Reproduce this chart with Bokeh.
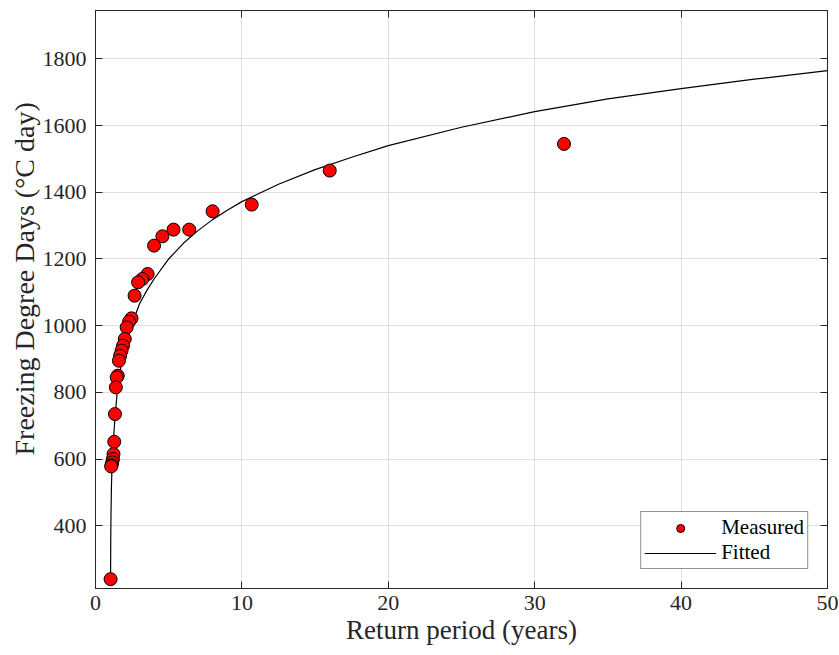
from bokeh.plotting import figure
from bokeh.models import Range1d, LinearAxis, FixedTicker, Legend, LegendItem, CustomJSTickFormatter, Title
from bokeh.embed import file_html
from bokeh.resources import INLINE

# Measured return periods (years) and freezing degree days
return_period = [32, 16, 10.67, 8, 6.4, 5.33, 4.57, 4.0, 3.56, 3.2, 2.91, 2.67,
                 2.46, 2.29, 2.13, 2.0, 1.88, 1.78, 1.68, 1.6, 1.52, 1.45, 1.39,
                 1.33, 1.28, 1.23, 1.19, 1.14, 1.10, 1.07, 1.03]
fdd_measured = [1545, 1465, 1363, 1343, 1288, 1288, 1268, 1240, 1155, 1140, 1130,
                1090, 1022, 1012, 995, 960, 940, 925, 910, 895, 850, 845, 815,
                735, 652, 615, 600, 590, 582, 578, 240]

# Fitted curve
fit_period = [1.03, 1.04, 1.06, 1.09, 1.13, 1.2, 1.3, 1.4, 1.5, 1.75, 2.0, 2.5,
              3.0, 3.5, 4.0, 5.0, 6.0, 7.0, 8.0, 9.0, 10.0, 12.5, 15.0, 17.5,
              20.0, 25.0, 30.0, 35.0, 40.0, 45.0, 50.0]
fit_fdd = [240, 350, 440, 520, 580, 640, 705, 760, 808, 880, 935, 1005,
           1065, 1105, 1140, 1200, 1247, 1285, 1318, 1346, 1372, 1424, 1468,
           1505, 1540, 1595, 1642, 1680, 1711, 1739, 1765]

x_ticks = [0, 10, 20, 30, 40, 50]
y_ticks = [400, 600, 800, 1000, 1200, 1400, 1600, 1800]

FONT = "Liberation Serif"
AX = "#262626"

p = figure(width=839, height=655, output_backend="svg", toolbar_location=None,
           x_range=Range1d(0, 50), y_range=Range1d(212, 1945),
           min_border_left=95, min_border_right=12, min_border_top=10,
           min_border_bottom=67)
p.outline_line_color = AX
p.outline_line_width = 1
p.background_fill_color = "white"
p.border_fill_color = "white"

for ax in (p.xaxis[0], p.yaxis[0]):
    ax.major_tick_in = 7
    ax.major_tick_out = 0
    ax.minor_tick_line_color = None
    ax.axis_line_color = AX
    ax.major_tick_line_color = AX
    ax.major_label_text_font = FONT
    ax.major_label_text_font_size = "22px"
    ax.major_label_text_color = AX
    ax.axis_label_text_font = FONT
    ax.axis_label_text_font_size = "27px"
    ax.axis_label_text_font_style = "normal"
    ax.axis_label_text_color = AX

p.xaxis[0].ticker = FixedTicker(ticks=x_ticks)
p.yaxis[0].ticker = FixedTicker(ticks=y_ticks)
p.xaxis[0].axis_label = "Return period (years)"
p.xaxis[0].major_label_standoff = 7
p.yaxis[0].major_label_standoff = 9
p.xaxis[0].axis_label_standoff = 2

# y label as a left title, placed like the reference
ytitle = Title(text="Freezing Degree Days (°C day)", align="left",
               text_font=FONT, text_font_size="28px", text_font_style="normal",
               text_color=AX, offset=133, standoff=0)
p.add_layout(ytitle, "left")

# mirrored axes (ticks only, no labels)
for loc, ticks in (("right", y_ticks), ("above", x_ticks)):
    a = LinearAxis(ticker=FixedTicker(ticks=ticks))
    a.major_tick_in = 7
    a.major_tick_out = 0
    a.minor_tick_line_color = None
    a.axis_line_color = AX
    a.major_tick_line_color = AX
    a.formatter = CustomJSTickFormatter(code="return '';")
    a.major_label_text_color = None
    a.major_label_standoff = 0
    p.add_layout(a, loc)

p.xgrid.ticker = FixedTicker(ticks=x_ticks)
p.ygrid.ticker = FixedTicker(ticks=y_ticks)
p.grid.grid_line_color = "#dfdfdf"
p.grid.grid_line_width = 1

r_fit = p.line(fit_period, fit_fdd, line_color="black", line_width=1.2)
r_meas = p.scatter(return_period, fdd_measured, size=13, marker="circle",
                   fill_color="#ff0000", line_color="black", line_width=1)

legend = Legend(items=[LegendItem(label="Measured", renderers=[r_meas]),
                       LegendItem(label="Fitted", renderers=[r_fit])],
                location="bottom_right")
legend.label_text_font = FONT
legend.label_text_font_size = "21px"
legend.label_text_color = "black"
legend.border_line_color = AX
legend.border_line_width = 1
legend.background_fill_color = "white"
legend.background_fill_alpha = 1
legend.glyph_width = 72
legend.glyph_height = 20
legend.label_height = 20
legend.spacing = 0
legend.padding = 3
legend.margin = 19
legend.label_standoff = 5
p.add_layout(legend, "center")

open("out.html", "w").write(file_html(p, INLINE))
